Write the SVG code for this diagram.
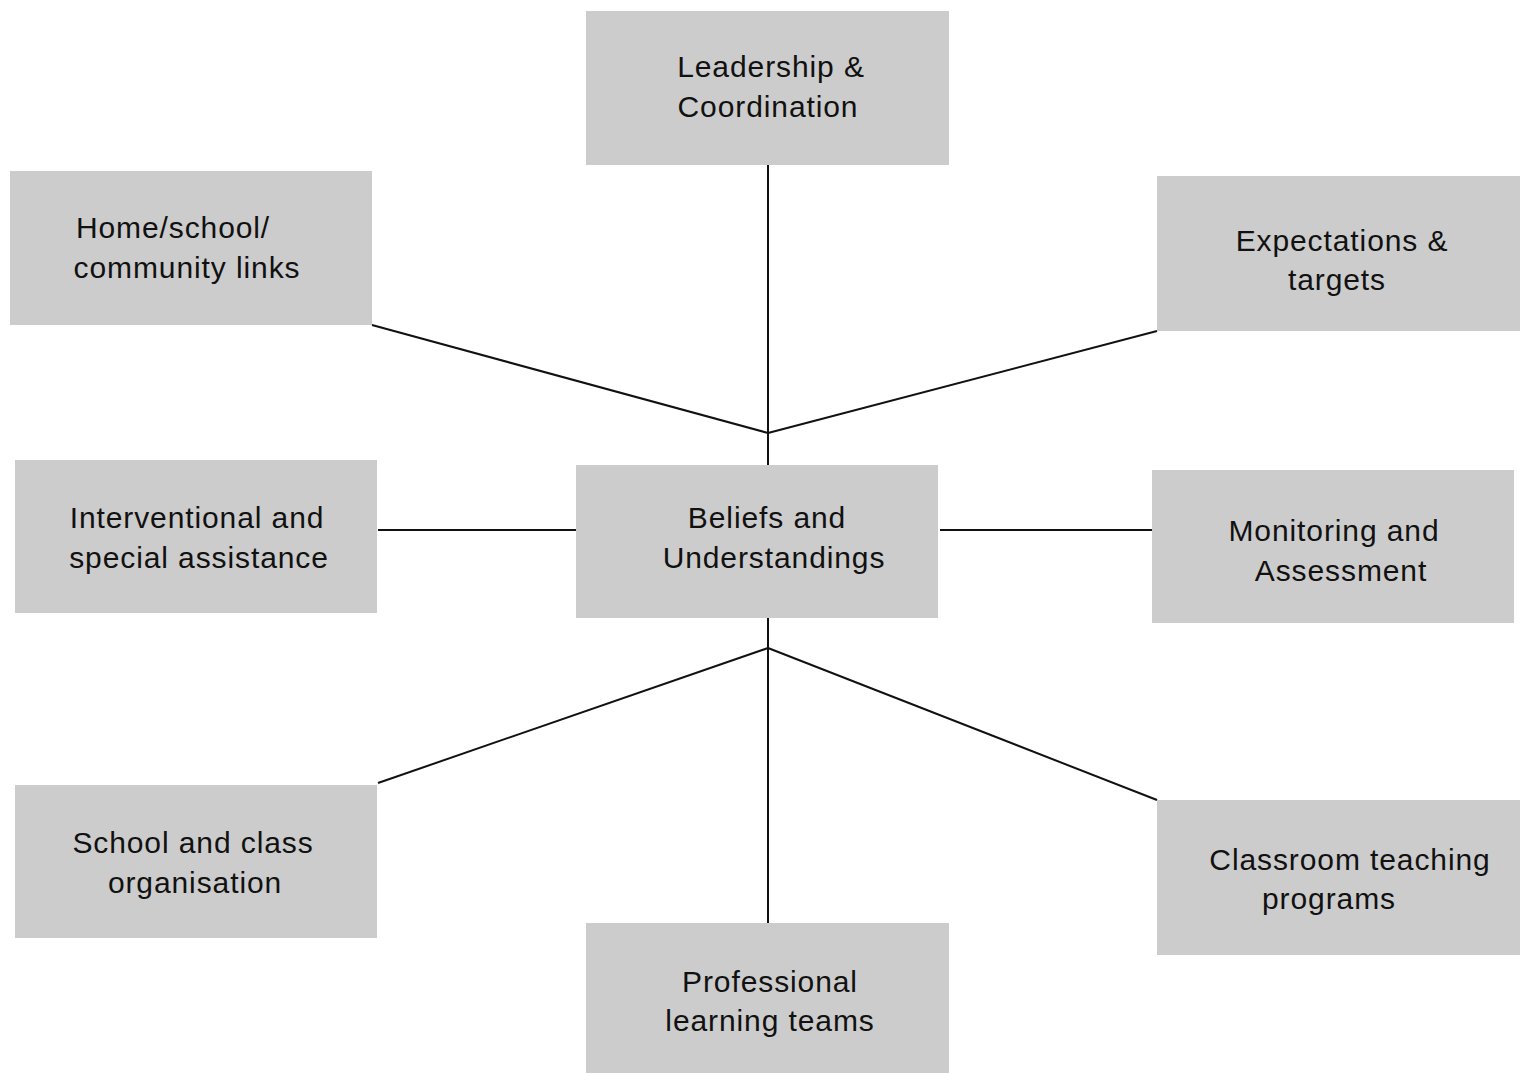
<svg xmlns="http://www.w3.org/2000/svg" width="1525" height="1073" viewBox="0 0 1525 1073">
<style>
.box{fill:#cccccc;}
.lbl{font-family:"Liberation Sans",Arial,sans-serif;font-size:30px;letter-spacing:0.9px;fill:#111111;text-anchor:middle;}
.conn line{stroke:#111111;stroke-width:2;fill:none;}
</style>
<rect width="1525" height="1073" fill="#ffffff"/>
<g id="connectors" class="conn">
<line x1="768" y1="165" x2="768" y2="465"/>
<line x1="372" y1="325" x2="768" y2="433"/>
<line x1="1157" y1="331" x2="768" y2="433"/>
<line x1="378" y1="530" x2="576" y2="530"/>
<line x1="940" y1="530" x2="1153" y2="530"/>
<line x1="768" y1="618" x2="768" y2="923"/>
<line x1="768" y1="648" x2="378" y2="783"/>
<line x1="768" y1="648" x2="1157" y2="800"/>
</g>
<g id="leadership">
<rect class="box" x="586" y="11" width="363" height="154"/>
<text class="lbl" x="771" y="77">Leadership &amp;</text>
<text class="lbl" x="768" y="117">Coordination</text>
</g>
<g id="home">
<rect class="box" x="10" y="171" width="362" height="154"/>
<text class="lbl" x="173" y="238">Home/school/</text>
<text class="lbl" x="187" y="278">community links</text>
</g>
<g id="expectations">
<rect class="box" x="1157" y="176" width="363" height="155"/>
<text class="lbl" x="1342" y="251">Expectations &amp;</text>
<text class="lbl" x="1337" y="290">targets</text>
</g>
<g id="interventional">
<rect class="box" x="15" y="460" width="362" height="153"/>
<text class="lbl" x="197" y="528">Interventional and</text>
<text class="lbl" x="199" y="568">special assistance</text>
</g>
<g id="beliefs">
<rect class="box" x="576" y="465" width="362" height="153"/>
<text class="lbl" x="767" y="528">Beliefs and</text>
<text class="lbl" x="774" y="568">Understandings</text>
</g>
<g id="monitoring">
<rect class="box" x="1152" y="470" width="362" height="153"/>
<text class="lbl" x="1334" y="541">Monitoring and</text>
<text class="lbl" x="1341" y="581">Assessment</text>
</g>
<g id="school">
<rect class="box" x="15" y="785" width="362" height="153"/>
<text class="lbl" x="193" y="853">School and class</text>
<text class="lbl" x="195" y="893">organisation</text>
</g>
<g id="classroom">
<rect class="box" x="1157" y="800" width="363" height="155"/>
<text class="lbl" x="1350" y="870">Classroom teaching</text>
<text class="lbl" x="1329" y="909">programs</text>
</g>
<g id="professional">
<rect class="box" x="586" y="923" width="363" height="150"/>
<text class="lbl" x="770" y="992">Professional</text>
<text class="lbl" x="770" y="1031">learning teams</text>
</g>
</svg>
